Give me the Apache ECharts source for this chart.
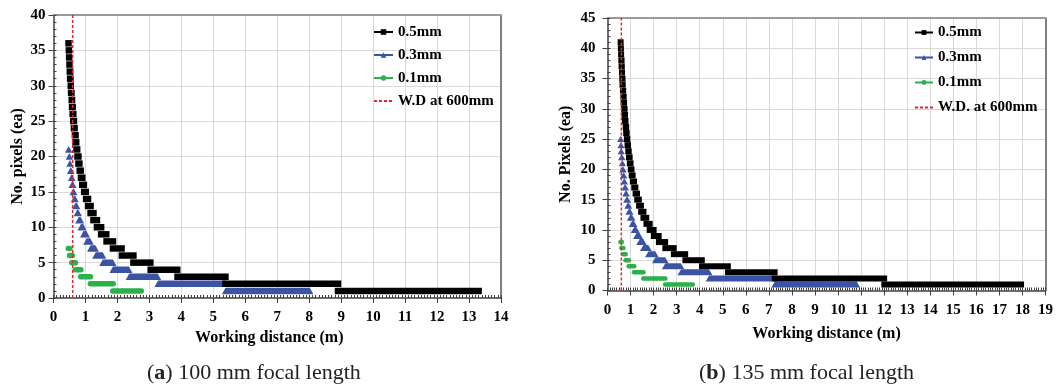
<!DOCTYPE html>
<html><head><meta charset="utf-8">
<script src="https://cdn.jsdelivr.net/npm/echarts@6/dist/echarts.min.js"></script>
<style>html,body{margin:0;padding:0;background:#fff}#c{width:1062px;height:389px}</style>
</head><body><div id="c"></div>
<script>
// ---- Data ----
// runs: [pixels, start distance (m), end distance (m)]
const xMaxA = 14, yMaxA = 40, xMaxB = 19, yMaxB = 45;
const xStep = 1, yStep = 5;
const seriesNames = ['0.5mm', '0.3mm', '0.1mm'];
const wdNameA = 'W.D at 600mm', wdNameB = 'W.D. at 600mm';
const wdDistance = 0.6;

const runsA_05 = [[36,0.47,0.47],[35,0.48,0.48],[34,0.49,0.49],[33,0.5,0.5],[32,0.51,0.52],[31,0.52,0.53],[30,0.54,0.54],[29,0.55,0.56],[28,0.57,0.58],[27,0.58,0.6],[26,0.6,0.62],[25,0.62,0.64],[24,0.64,0.66],[23,0.67,0.69],[22,0.69,0.71],[21,0.72,0.74],[20,0.75,0.78],[19,0.78,0.81],[18,0.82,0.85],[17,0.86,0.9],[16,0.9,0.95],[15,0.96,1.01],[14,1.02,1.08],[13,1.08,1.16],[12,1.16,1.25],[11,1.25,1.36],[10,1.36,1.49],[9,1.49,1.65],[8,1.66,1.86],[7,1.86,2.13],[6,2.14,2.5],[5,2.5,3.03],[4,3.04,3.87],[3,3.88,5.38],[2,5.38,8.9],[1,8.9,13.3]];
const runsA_03 = [[21,0.47,0.48],[20,0.49,0.5],[19,0.51,0.52],[18,0.53,0.55],[17,0.56,0.58],[16,0.58,0.61],[15,0.61,0.64],[14,0.65,0.68],[13,0.69,0.73],[12,0.74,0.78],[11,0.79,0.85],[10,0.86,0.93],[9,0.94,1.03],[8,1.04,1.15],[7,1.16,1.31],[6,1.32,1.54],[5,1.54,1.86],[4,1.86,2.36],[3,2.37,3.26],[2,3.27,5.38],[1,5.38,8.02]];
const runsA_01 = [[7,0.47,0.5],[6,0.51,0.58],[5,0.58,0.68],[4,0.69,0.85],[3,0.86,1.15],[2,1.16,1.86],[1,1.86,2.74]];

const runsB_05 = [[41,0.57,0.57],[40,0.58,0.58],[39,0.59,0.59],[38,0.6,0.61],[37,0.61,0.62],[36,0.63,0.63],[35,0.64,0.65],[34,0.65,0.66],[33,0.67,0.68],[32,0.69,0.7],[31,0.7,0.72],[30,0.72,0.74],[29,0.74,0.76],[28,0.76,0.78],[27,0.79,0.81],[26,0.81,0.83],[25,0.84,0.86],[24,0.87,0.89],[23,0.9,0.92],[22,0.93,0.96],[21,0.97,1.0],[20,1.01,1.04],[19,1.05,1.09],[18,1.1,1.15],[17,1.16,1.21],[16,1.22,1.28],[15,1.29,1.36],[14,1.37,1.45],[13,1.46,1.56],[12,1.56,1.68],[11,1.69,1.83],[10,1.83,2.0],[9,2.01,2.22],[8,2.23,2.5],[7,2.51,2.87],[6,2.88,3.37],[5,3.38,4.09],[4,4.1,5.22],[3,5.23,7.25],[2,7.26,12.0],[1,12.01,17.94]];
const runsB_03 = [[25,0.57,0.57],[24,0.58,0.59],[23,0.59,0.6],[22,0.61,0.63],[21,0.64,0.65],[20,0.66,0.68],[19,0.69,0.71],[18,0.72,0.74],[17,0.75,0.78],[16,0.79,0.82],[15,0.83,0.87],[14,0.88,0.92],[13,0.93,0.98],[12,0.99,1.06],[11,1.07,1.15],[10,1.16,1.25],[9,1.26,1.39],[8,1.4,1.55],[7,1.56,1.77],[6,1.78,2.07],[5,2.08,2.5],[4,2.51,3.18],[3,3.19,4.4],[2,4.41,7.25],[1,7.26,10.81]];
const runsB_01 = [[8,0.57,0.61],[7,0.61,0.68],[6,0.69,0.78],[5,0.79,0.92],[4,0.93,1.15],[3,1.16,1.55],[2,1.56,2.5],[1,2.51,3.69]];

// ---- Styles ----
const colors = ['#000000', '#3a53a4', '#2bb04a'];
const redC = '#e8262a';
const serif = 'Liberation Serif';
const axisCol = '#404040';

function runRender(shape, w, h, color) {
  return function (params, api) {
    const v = api.value(0), a = api.value(1), b = api.value(2);
    const p0 = api.coord([a, v]), p1 = api.coord([b, v]);
    const hw = w / 2, hh = h / 2;
    if (shape === 'triangle') {
      return { type: 'polygon', shape: { points: [[p0[0] - hw, p0[1] + hh], [p0[0], p0[1] - hh], [p1[0], p1[1] - hh], [p1[0] + hw, p1[1] + hh]] }, style: { fill: color } };
    }
    return { type: 'rect', shape: { x: p0[0] - hw, y: p0[1] - hh, width: p1[0] - p0[0] + w, height: h, r: shape === 'circle' ? hh : 0 }, style: { fill: color } };
  };
}

function xAxes(gi, max, nameGap, namePad) {
  return [
    { type: 'value', gridIndex: gi, min: 0, max: max, interval: xStep, position: 'bottom',
      axisLine: { onZero: false, lineStyle: { color: axisCol, width: 1.5 } },
      axisTick: { show: true, inside: true, length: 3, lineStyle: { color: axisCol } },
      minorTick: { show: true, splitNumber: 10, length: 3, lineStyle: { color: axisCol, width: 1 } },
      axisLabel: { fontFamily: serif, fontWeight: 'bold', fontSize: 15, color: '#000', margin: 12 },
      splitLine: { show: true, showMinLine: false, showMaxLine: false, lineStyle: { color: '#d9d9d9', width: 1 } },
      name: 'Working distance (m)', nameLocation: 'middle', nameGap: nameGap,
      nameTextStyle: { fontFamily: serif, fontWeight: 'bold', fontSize: 16, color: '#000', padding: namePad } },
    { type: 'value', gridIndex: gi, min: 0, max: max, interval: xStep, position: 'bottom',
      axisLine: { show: false, onZero: false }, axisTick: { show: true, inside: false, length: 5, lineStyle: { color: axisCol } },
      axisLabel: { show: false }, splitLine: { show: false } },
    { type: 'value', gridIndex: gi, min: 0, max: max, interval: xStep, position: 'top',
      axisLine: { show: true, onZero: false, lineStyle: { color: '#9a9a9a', width: 2 } }, axisTick: { show: false },
      axisLabel: { show: false }, splitLine: { show: false } }
  ];
}
function yAxes(gi, max, name, nameGap, margin) {
  return [
    { type: 'value', gridIndex: gi, min: 0, max: max, interval: yStep, position: 'left',
      axisLine: { onZero: false, lineStyle: { color: axisCol, width: 1.5 } },
      axisTick: { show: true, inside: true, length: 3, lineStyle: { color: axisCol } },
      minorTick: { show: true, splitNumber: 5, length: 3, lineStyle: { color: axisCol, width: 1 } },
      axisLabel: { fontFamily: serif, fontWeight: 'bold', fontSize: 15, color: '#000', margin: margin },
      splitLine: { show: true, showMinLine: false, showMaxLine: false, lineStyle: { color: '#d9d9d9', width: 1 } },
      name: name, nameLocation: 'middle', nameGap: nameGap, nameRotate: 90,
      nameTextStyle: { fontFamily: serif, fontWeight: 'bold', fontSize: 16, color: '#000' } },
    { type: 'value', gridIndex: gi, min: 0, max: max, interval: yStep, position: 'left',
      axisLine: { show: false, onZero: false }, axisTick: { show: true, inside: false, length: 5, lineStyle: { color: axisCol } },
      axisLabel: { show: false }, splitLine: { show: false } },
    { type: 'value', gridIndex: gi, min: 0, max: max, interval: yStep, position: 'right',
      axisLine: { show: true, onZero: false, lineStyle: { color: '#555', width: 1.5 } }, axisTick: { show: false },
      axisLabel: { show: false }, splitLine: { show: false } }
  ];
}

const shapes = ['rect', 'triangle', 'circle'];
const legendSym = ['rect', 'triangle', 'circle'];
function panelSeries(gi, runs, sizes, wdName, yMax) {
  const xi = gi * 3, yi = gi * 3;
  const out = [];
  runs.forEach((r, i) => {
    out.push({ type: 'custom', name: seriesNames[i] + '_runs_' + gi, xAxisIndex: xi, yAxisIndex: yi,
      renderItem: runRender(shapes[i], sizes[i][0], sizes[i][1], colors[i]),
      encode: { x: [1, 2], y: 0 }, data: r, z: 3 + (2 - i) });
  });
  out.push({ type: 'line', name: wdName, xAxisIndex: xi, yAxisIndex: yi, symbol: 'none',
    data: [[wdDistance, 0], [wdDistance, yMax]],
    lineStyle: { color: redC, width: 1.5, type: [3, 2] }, itemStyle: { color: redC }, z: 6 });
  return out;
}

const legendSeries = seriesNames.map((n, i) => ({
  type: 'line', name: n, xAxisIndex: 0, yAxisIndex: 0, data: [], symbol: legendSym[i], symbolSize: 6,
  itemStyle: { color: colors[i] }, lineStyle: { color: colors[i], width: 1.5 }
}));

const legendText = { fontFamily: serif, fontWeight: 'bold', fontSize: 15, color: '#000' };
function legendData(wdName) {
  return seriesNames.map(n => ({ name: n })).concat([{ name: wdName, itemStyle: { opacity: 0 } }]);
}

const option = {
  animation: false,
  grid: [
    { left: 53.5, top: 15, right: 561, bottom: 91, containLabel: false },
    { left: 607.5, top: 18, right: 16.5, bottom: 98.5, containLabel: false }
  ],
  xAxis: xAxes(0, xMaxA, 30, [0, 16, 0, 0]).concat(xAxes(1, xMaxB, 35, 0)),
  yAxis: yAxes(0, yMaxA, 'No. pixels (ea)', 28, 8).concat(yAxes(1, yMaxB, 'No. Pixels (ea)', 34, 12)),
  legend: [
    { orient: 'vertical', left: 373, top: 24.5, padding: 0, itemWidth: 19, itemHeight: 7, itemGap: 8,
      data: legendData(wdNameA), textStyle: legendText, selectedMode: false },
    { orient: 'vertical', left: 914, top: 25, padding: 0, itemWidth: 18, itemHeight: 6, itemGap: 10,
      data: legendData(wdNameB), textStyle: legendText, selectedMode: false }
  ],
  graphic: [
    { type: 'text', left: 147, top: 362, style: { text: '({b|a}) 100 mm focal length', font: '22px "Liberation Serif"', fill: '#222',
      rich: { b: { fontWeight: 'bold', fontSize: 22, fontFamily: serif, fill: '#222' } } } },
    { type: 'text', left: 699, top: 362, style: { text: '({b|b}) 135 mm focal length', font: '22px "Liberation Serif"', fill: '#222',
      rich: { b: { fontWeight: 'bold', fontSize: 22, fontFamily: serif, fill: '#222' } } } }
  ],
  series: legendSeries
    .concat(panelSeries(0, [runsA_05, runsA_03, runsA_01], [[6.5, 6.5], [7, 6.5], [6, 5.5]], wdNameA, yMaxA))
    .concat(panelSeries(1, [runsB_05, runsB_03, runsB_01], [[6, 6], [7, 6], [5, 4.5]], wdNameB, yMaxB))
};

const chart = echarts.init(document.getElementById('c'), null, { renderer: 'canvas' });
chart.setOption(option);
</script>
</body></html>
